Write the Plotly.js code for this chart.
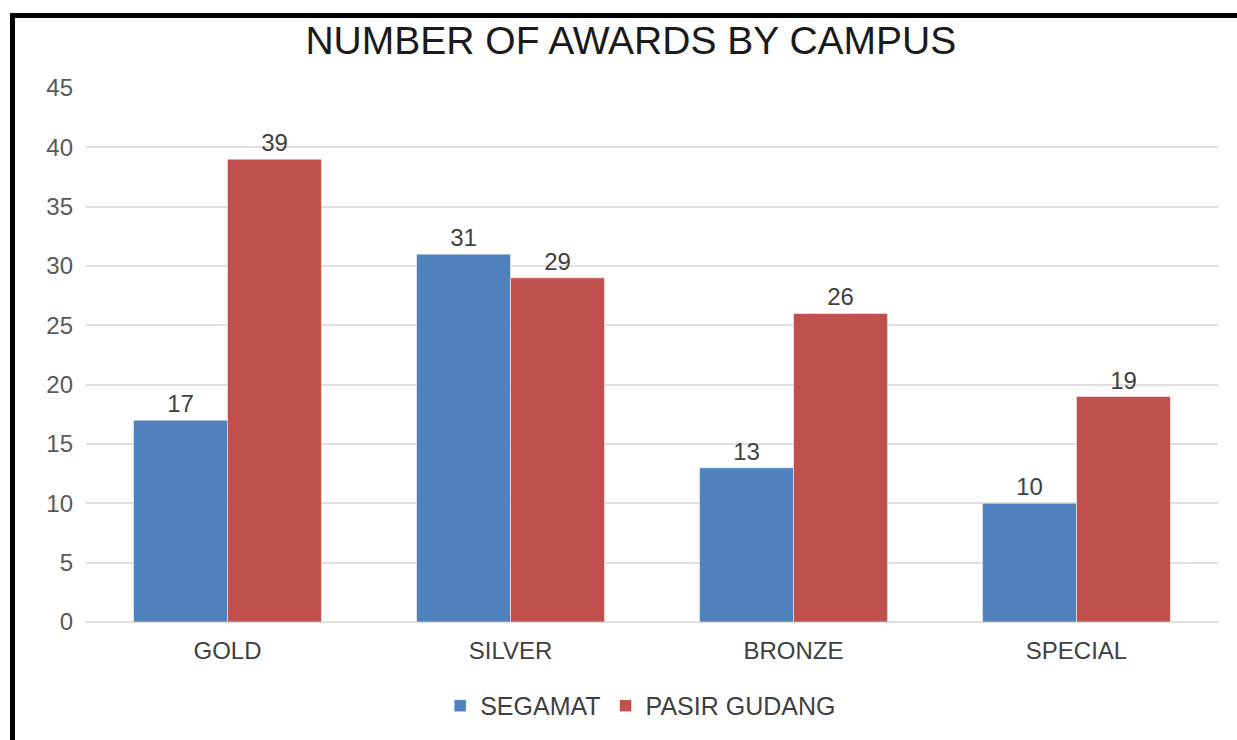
<!DOCTYPE html>
<html>
<head>
<meta charset="utf-8">
<script src="https://cdn.plot.ly/plotly-3.0.1.min.js"></script>
<style>
html,body{margin:0;padding:0;background:#fff;}
#chart{width:1237px;height:740px;position:relative;}
#frame{position:absolute;left:10px;top:13px;width:1240px;height:740px;border-top:5px solid #000;border-left:5px solid #000;pointer-events:none;}
</style>
</head>
<body>
<div id="chart"></div>
<div id="frame"></div>
<script>
const categories = ["GOLD", "SILVER", "BRONZE", "SPECIAL"];
const segamat = [17, 31, 13, 10];
const pasirGudang = [39, 29, 26, 19];
const seriesNames = ["SEGAMAT", "PASIR GUDANG"];
const yTicks = [0, 5, 10, 15, 20, 25, 30, 35, 40, 45];

const font = "Liberation Sans, Arial, sans-serif";
const traces = [
  {type:"bar", name:seriesNames[0], x:categories, y:segamat, text:segamat.map(String),
   textposition:"outside", cliponaxis:false, textfont:{size:24,color:"#404040",family:font},
   marker:{color:"#4f81bd", line:{color:"#ffffff", width:0.5}}},
  {type:"bar", name:seriesNames[1], x:categories, y:pasirGudang, text:pasirGudang.map(String),
   textposition:"outside", cliponaxis:false, textfont:{size:24,color:"#404040",family:font},
   marker:{color:"#c0504d", line:{color:"#ffffff", width:0.5}}}
];
const layout = {
  width:1237, height:740,
  margin:{l:86, r:19, t:88, b:117},
  paper_bgcolor:"#fff", plot_bgcolor:"#fff",
  font:{family:font, size:24, color:"#595959"},
  title:{text:"NUMBER OF AWARDS BY CAMPUS", font:{size:39, color:"#1a1a1a", family:font}, x:0.51, xanchor:"center", y:0.946, yanchor:"middle"},
  barmode:"group", bargap:0.336, bargroupgap:0,
  xaxis:{type:"category", showgrid:false, showline:false, ticks:"", tickfont:{size:24,color:"#404040"}, ticklabelstandoff:12},
  yaxis:{range:[0,45], tickvals:yTicks, ticktext:yTicks.map(String), showgrid:true, gridcolor:"#e0e0e0", gridwidth:2,
         zeroline:true, zerolinecolor:"#e0e0e0", zerolinewidth:2, showline:false, ticks:"", tickfont:{size:24,color:"#595959"}, ticklabelstandoff:12},
  showlegend:true,
  legend:{orientation:"h", x:0.49, xanchor:"center", y:-0.155, yanchor:"middle", font:{size:25,color:"#404040"}, itemwidth:30, tracegroupgap:0},
};
Plotly.newPlot("chart", traces, layout, {displayModeBar:false, staticPlot:true});
</script>
</body>
</html>
